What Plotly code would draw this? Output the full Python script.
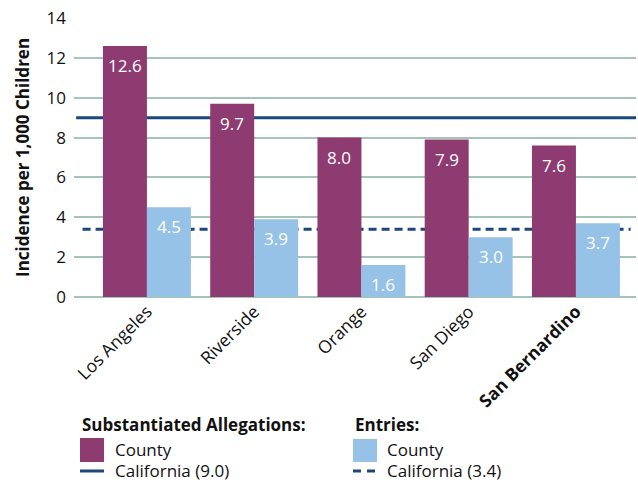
import plotly.graph_objects as go

counties = ["Los Angeles", "Riverside", "Orange", "San Diego", "San Bernardino"]
tick_labels = ["Los Angeles", "Riverside", "Orange", "San Diego", "<b>San Bernardino</b>"]
allegations = [12.6, 9.7, 8.0, 7.9, 7.6]
entries = [4.5, 3.9, 1.6, 3.0, 3.7]
ca_allegations = 9.0
ca_entries = 3.4

PURPLE = "#8e3b71"
LIGHT_BLUE = "#96c2e7"
NAVY = "#1b4878"
GRID = "#a5c3b7"
FONT = "Open Sans"
INK = "#111111"

x_pos = list(range(len(counties)))
bar_w = 0.41
x_range = [-0.68, 4.56]

W, H = 638, 485
margin = dict(l=74, r=2, t=18, b=188)
plot_w = W - margin["l"] - margin["r"]
plot_h = H - margin["t"] - margin["b"]


def fx(x):
    """pixel column -> paper x"""
    return (x - margin["l"]) / plot_w


def fy(y):
    """pixel row -> paper y"""
    return (H - y - margin["b"]) / plot_h


fig = go.Figure()

fig.add_trace(go.Bar(
    x=x_pos, y=allegations, width=bar_w, offset=-bar_w,
    marker=dict(color=PURPLE, line=dict(width=0)), showlegend=False,
    hoverinfo="y",
))
fig.add_trace(go.Bar(
    x=x_pos, y=entries, width=bar_w, offset=0,
    marker=dict(color=LIGHT_BLUE, line=dict(width=0)), showlegend=False,
    hoverinfo="y",
))

annotations = []
for i, (a, e) in enumerate(zip(allegations, entries)):
    annotations.append(dict(x=i - bar_w / 2, y=a, text=f"{a:.1f}", showarrow=False,
                            yshift=-20, font=dict(color="white", size=17, family=FONT)))
    annotations.append(dict(x=i + bar_w / 2, y=e, text=f"{e:.1f}", showarrow=False,
                            yshift=-19, font=dict(color="white", size=17, family=FONT)))

# y-axis title
annotations.append(dict(xref="paper", yref="paper", x=fx(22), y=fy(158),
                        text="<b>Incidence per 1,000 Children</b>", textangle=-90,
                        showarrow=False, xanchor="center", yanchor="middle",
                        font=dict(size=17, family=FONT, color=INK)))

legend_text = [
    (80, 424, "<b>Substantiated Allegations:</b>", 17),
    (113, 449, "County", 17),
    (113, 471, "California (9.0)", 17),
    (353, 424, "<b>Entries:</b>", 17),
    (385, 449, "County", 17),
    (385, 471, "California (3.4)", 17),
]
for x, y, t, s in legend_text:
    annotations.append(dict(xref="paper", yref="paper", x=fx(x), y=fy(y), text=t,
                            showarrow=False, xanchor="left", yanchor="middle",
                            font=dict(size=s, family=FONT, color=INK)))

shapes = [
    # statewide reference lines, kept beneath the bars
    dict(type="line", xref="x", yref="y", x0=x_range[0] + 0.02, x1=x_range[1],
         y0=ca_allegations, y1=ca_allegations, layer="below",
         line=dict(color=NAVY, width=3)),
    dict(type="line", xref="x", yref="y", x0=x_range[0] + 0.08, x1=x_range[1] - 0.05,
         y0=ca_entries, y1=ca_entries, layer="below",
         line=dict(color=NAVY, width=3, dash="8px,5px")),
    # legend keys
    dict(type="rect", xref="paper", yref="paper", x0=fx(80), x1=fx(104), y0=fy(462), y1=fy(438),
         fillcolor=PURPLE, line=dict(width=0)),
    dict(type="rect", xref="paper", yref="paper", x0=fx(353), x1=fx(377), y0=fy(462), y1=fy(439),
         fillcolor=LIGHT_BLUE, line=dict(width=0)),
    dict(type="line", xref="paper", yref="paper", x0=fx(80), x1=fx(104), y0=fy(471), y1=fy(471),
         line=dict(color=NAVY, width=3)),
    dict(type="line", xref="paper", yref="paper", x0=fx(353), x1=fx(377), y0=fy(471), y1=fy(471),
         line=dict(color=NAVY, width=3, dash="8px,6px")),
]

fig.update_layout(
    width=W, height=H,
    margin=margin,
    paper_bgcolor="white", plot_bgcolor="white",
    barmode="overlay",
    font=dict(family=FONT, color=INK),
    annotations=annotations,
    shapes=shapes,
    xaxis=dict(
        range=x_range, tickvals=x_pos, ticktext=tick_labels, tickangle=-45,
        showgrid=False, zeroline=False, showline=False, ticks="",
        tickfont=dict(size=17.5, family=FONT, color=INK),
    ),
    yaxis=dict(
        range=[0, 14], dtick=2, showgrid=True, gridcolor=GRID, gridwidth=2,
        zeroline=True, zerolinecolor=GRID, zerolinewidth=2, showline=False,
        ticks="", ticklabelstandoff=7, tickfont=dict(size=17, family=FONT, color=INK),
    ),
)

fig.write_html("out.html")
